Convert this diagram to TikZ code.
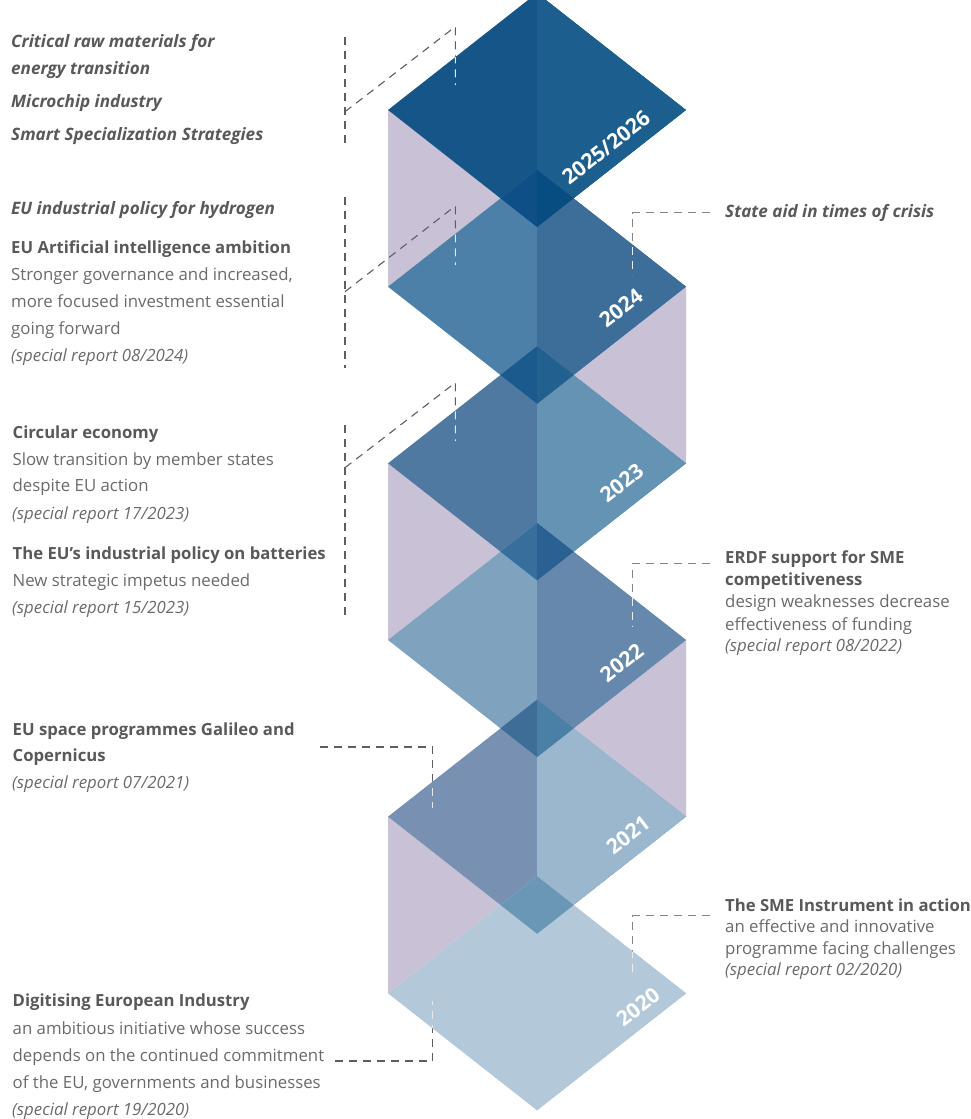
\documentclass[tikz,border=0pt]{standalone}
\usepackage{fontspec}
\setmainfont{Open Sans}
\definecolor{d25L}{HTML}{165587}\definecolor{d25R}{HTML}{1C5E8E}
\definecolor{d24L}{HTML}{4C80A8}\definecolor{d24R}{HTML}{3D6E99}
\definecolor{d23L}{HTML}{5079A1}\definecolor{d23R}{HTML}{6593B3}
\definecolor{d22L}{HTML}{7FA3BF}\definecolor{d22R}{HTML}{6688AC}
\definecolor{d21L}{HTML}{7891B2}\definecolor{d21R}{HTML}{9AB7CE}
\definecolor{d20L}{HTML}{B3C8D9}\definecolor{d20R}{HTML}{B3C8D9}
\definecolor{o1L}{HTML}{0D4F86}\definecolor{o1R}{HTML}{084D81}
\definecolor{o2L}{HTML}{1B5A8C}\definecolor{o2R}{HTML}{21608F}
\definecolor{o3L}{HTML}{366F9B}\definecolor{o3R}{HTML}{286192}
\definecolor{o4L}{HTML}{3E6E98}\definecolor{o4R}{HTML}{4A7FA6}
\definecolor{o5L}{HTML}{6A97B6}\definecolor{o5R}{HTML}{6A97B6}
\definecolor{lav}{HTML}{C9C2D7}
\definecolor{ttlc}{HTML}{58595B}
\definecolor{bdyc}{HTML}{6A6A6A}
\definecolor{leadLc}{HTML}{5E5E5E}
\definecolor{leadRc}{HTML}{858585}
\tikzset{
  ttl/.style={anchor=base west, inner sep=0pt, text=ttlc, font=\fontsize{16.7}{20}\selectfont\bfseries},
  ttli/.style={anchor=base west, inner sep=0pt, text=ttlc, font=\fontsize{17.1}{20}\selectfont\bfseries\itshape},
  bdy/.style={anchor=base west, inner sep=0pt, text=bdyc, font=\fontsize{16.8}{20}\selectfont},
  rep/.style={anchor=base west, inner sep=0pt, text=bdyc, font=\fontsize{16.8}{20}\selectfont\itshape},
  yr/.style={text=white, font=\fontsize{21}{24}\selectfont\bfseries, rotate=38, inner sep=0pt},
  leadL/.style={draw=leadLc, line width=1.1pt, dash pattern=on 8pt off 6pt},
  leadR/.style={draw=leadRc, line width=1.1pt, dash pattern=on 8pt off 6pt},
  leadW/.style={draw=white, draw opacity=0.85, line width=1.1pt, dash pattern=on 8pt off 6pt},
}
\begin{document}
\begin{tikzpicture}[x=1pt,y=-1pt]
\useasboundingbox (0,0) rectangle (971,1119);
\clip (0,0) rectangle (971,1119);
% lavender side faces
\fill[lav] (388,110) -- (500.5,198.33) -- (388,286.67) -- cycle;
\fill[lav] (686,286.67) -- (573.5,375) -- (686,463.33) -- cycle;
\fill[lav] (388,463.33) -- (500.5,551.67) -- (388,640) -- cycle;
\fill[lav] (686,640) -- (573.5,728.33) -- (686,816.67) -- cycle;
\fill[lav] (388,816.67) -- (500.5,905) -- (388,993.33) -- cycle;
% diamonds
\foreach \cy/\cl/\cr in {110/d25L/d25R, 286.67/d24L/d24R, 463.33/d23L/d23R, 640/d22L/d22R, 816.67/d21L/d21R, 993.33/d20L/d20R}{
  \fill[\cl] (537,\cy-117) -- (388,\cy) -- (537,\cy+117) -- (686,\cy) -- cycle;
  \fill[\cr] (537,\cy-117) -- (686,\cy) -- (537,\cy+117) -- cycle;
}
% overlaps
\foreach \cy/\cl/\cr in {110/o1L/o1R, 286.67/o2L/o2R, 463.33/o3L/o3R, 640/o4L/o4R, 816.67/o5L/o5R}{
  \fill[\cl] (537,\cy+59.67) -- (500.5,\cy+88.33) -- (537,\cy+117) -- (573.5,\cy+88.33) -- cycle;
  \fill[\cr] (537,\cy+59.67) -- (573.5,\cy+88.33) -- (537,\cy+117) -- cycle;
}
% year labels
\node[yr] (y2526) at (606,147.5) {2025/2026};
\node[yr] (y24) at (621,308) {2024};
\node[yr] (y23) at (621.7,483) {2023};
\node[yr] (y22) at (621.7,662.5) {2022};
\node[yr] (y21) at (628,835) {2021};
\node[yr] (y20) at (638,1006.7) {2020};
% leader coordinates
\coordinate (A1) at (345,37);   \coordinate (B1) at (345,145);
\coordinate (C1) at (345,111.7);\coordinate (D1) at (455.3,26.7); \coordinate (E1) at (455.3,85);
\coordinate (A2) at (345,197);  \coordinate (B2) at (345,368);
\coordinate (C2) at (345,291.7);\coordinate (D2) at (455.3,206);  \coordinate (E2) at (455.3,265);
\coordinate (A3) at (345,425);  \coordinate (B3) at (345,617);
\coordinate (C3) at (345,467.7);\coordinate (D3) at (455.3,382.7);\coordinate (E3) at (455.3,441);
\coordinate (F1) at (320,747);  \coordinate (G1) at (432.7,747);  \coordinate (H1) at (432.7,808);
\coordinate (F2) at (335,1061); \coordinate (G2) at (432.7,1061); \coordinate (H2) at (432.7,1001);
\coordinate (R1a) at (710,212.7); \coordinate (R1b) at (632.3,212.7); \coordinate (R1c) at (632.3,275);
\coordinate (R2a) at (710,563.3); \coordinate (R2b) at (632.3,563.3); \coordinate (R2c) at (632.3,626.7);
\coordinate (R3a) at (710,915.7); \coordinate (R3b) at (632.3,915.7); \coordinate (R3c) at (632.3,977.7);
% leaders
\foreach \i in {1,2,3}{
  \draw[leadL] (A\i) -- (B\i);
  \draw[leadL] (C\i) -- (D\i) -- (E\i);
}
\draw[leadL] (F1) -- (G1) -- (H1);
\draw[leadL] (F2) -- (G2) -- (H2);
\draw[leadR] (R1a) -- (R1b) -- (R1c);
\draw[leadR] (R2a) -- (R2b) -- (R2c);
\draw[leadR] (R3a) -- (R3b) -- (R3c);
\begin{scope}
  \clip \foreach \cy in {110,286.67,463.33,640,816.67,993.33}{ (537,\cy-117) -- (388,\cy) -- (537,\cy+117) -- (686,\cy) -- cycle };
  \foreach \i in {1,2,3}{ \draw[leadW] (C\i) -- (D\i) -- (E\i); }
  \draw[leadW] (F1) -- (G1) -- (H1);
  \draw[leadW] (F2) -- (G2) -- (H2);
  \draw[leadW] (R1a) -- (R1b) -- (R1c);
  \draw[leadW] (R2a) -- (R2b) -- (R2c);
  \draw[leadW] (R3a) -- (R3b) -- (R3c);
\end{scope}
% left texts
\node[ttli] (t1) at (11,47.3) {Critical raw materials for};
\node[ttli] (t2) at (11,74) {energy transition};
\node[ttli] (t3) at (11,107.3) {Microchip industry};
\node[ttli] (t4) at (11,140.7) {Smart Specialization Strategies};
\node[ttli] (t5) at (11,214.3) {EU industrial policy for hydrogen};
\node[ttl]  (t6) at (11,253.3) {EU Artificial intelligence ambition};
\node[bdy]  (t7) at (11,280.7) {Stronger governance and increased,};
\node[bdy]  (t8) at (11,307.3) {more focused investment essential};
\node[bdy]  (t9) at (11,334.5) {going forward};
\node[rep]  (t10) at (11,361.5) {(special report 08/2024)};
\node[ttl]  (t11) at (12.5,438.3) {Circular economy};
\node[bdy]  (t12) at (12.5,465) {Slow transition by member states};
\node[bdy]  (t13) at (12.5,491.7) {despite EU action};
\node[rep]  (t14) at (12,519.5) {(special report 17/2023)};
\node[ttl]  (t15) at (12.5,559.5) {The EU’s industrial policy on batteries};
\node[bdy]  (t16) at (12.5,586) {New strategic impetus needed};
\node[rep]  (t17) at (12,613) {(special report 15/2023)};
\node[ttl]  (t18) at (12.5,735) {EU space programmes Galileo and};
\node[ttl]  (t19) at (12.5,761.7) {Copernicus};
\node[rep]  (t20) at (12,788.7) {(special report 07/2021)};
\node[ttl]  (t21) at (12.5,1006.7) {Digitising European Industry};
\node[bdy]  (t22) at (12.5,1034.5) {an ambitious initiative whose success};
\node[bdy]  (t23) at (12.5,1061.5) {depends on the continued commitment};
\node[bdy]  (t24) at (12.5,1088.7) {of the EU, governments and businesses};
\node[rep]  (t25) at (12,1115.5) {(special report 19/2020)};
% right texts
\node[ttli] (r1) at (725,217.3) {State aid in times of crisis};
\node[ttl]  (r2) at (725,563.5) {ERDF support for SME};
\node[ttl]  (r3) at (725,585.5) {competitiveness};
\node[bdy]  (r4) at (725,607.8) {design weaknesses decrease};
\node[bdy]  (r5) at (725,630) {effectiveness of funding};
\node[rep]  (r6) at (725,651.8) {(special report 08/2022)};
\node[ttl]  (r7) at (725,911) {The SME Instrument in action};
\node[bdy]  (r8) at (725,932.5) {an effective and innovative};
\node[bdy]  (r9) at (725,954) {programme facing challenges};
\node[rep]  (r10) at (725,975.5) {(special report 02/2020)};
\end{tikzpicture}
\end{document}
